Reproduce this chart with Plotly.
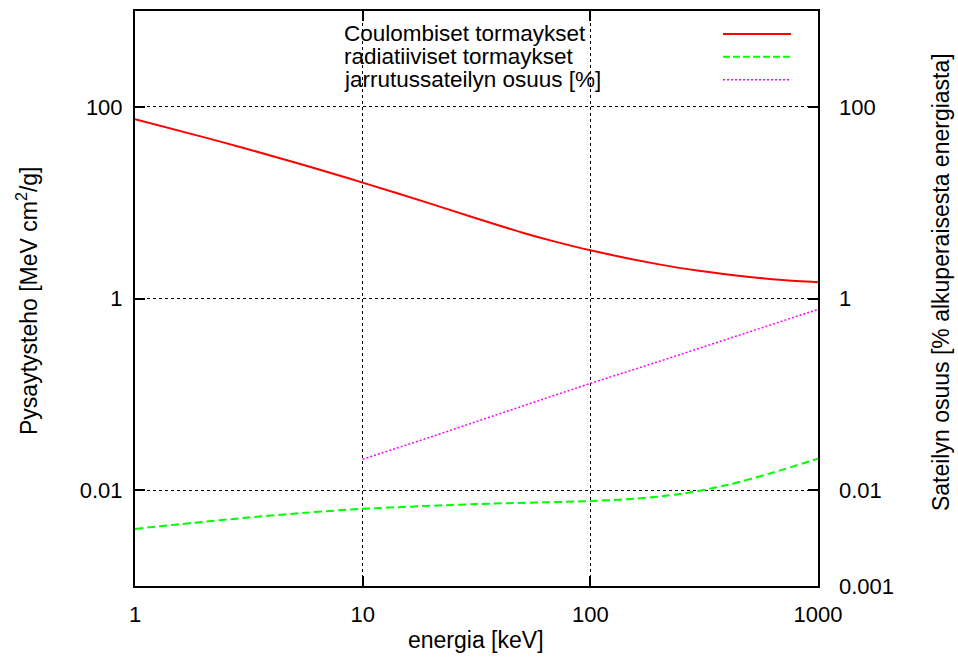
import plotly.graph_objects as go

# ---- data ----
energy_coul = [1, 2, 3, 5, 7, 10, 20, 30, 50, 70, 100, 200, 300, 500, 700, 1000]
coulomb = [74.1, 48.3, 37.2, 26.4, 20.9, 16.2, 9.72, 7.13, 4.89, 3.92, 3.18, 2.27, 1.95, 1.68, 1.56, 1.48]

energy_rad = [1, 1.78, 3.16, 5.62, 10, 31.6, 100, 158, 251, 398, 631, 1000]
radiative = [0.00394, 0.00455, 0.00519, 0.00582, 0.00638, 0.00716, 0.00770, 0.00815,
             0.00915, 0.0113, 0.0152, 0.0213]

energy_brems = [10, 20, 50, 100, 200, 500, 1000]
brems_share = [0.021, 0.036, 0.075, 0.13, 0.22, 0.45, 0.77]

x_ticks = [1, 10, 100, 1000]
x_ticktext = ["1", "10", "100", "1000"]
y_ticks = [0.01, 1, 100]
y_ticktext = ["0.01", "1", "100"]
y2_ticks = [0.001, 0.01, 1, 100]
y2_ticktext = ["0.001", "0.01", "1", "100"]

legend_names = ["Coulombiset tormaykset", "radiatiiviset tormaykset", "jarrutussateilyn osuus [%]"]
colors = ["#ff0000", "#00ff00", "#ff00ff"]

FONT = "Liberation Sans, Arial, Helvetica, sans-serif"
W, H = 958, 659
L, R, T, B = 135, 818, 9, 586


def px2x(px):
    return (px - L) / (R - L)


def py2y(py):
    return (B - py) / (B - T)


fig = go.Figure()
fig.add_trace(go.Scatter(x=energy_coul, y=coulomb, mode="lines", name=legend_names[0],
                         line=dict(color=colors[0], width=2, shape="spline", smoothing=0.8),
                         showlegend=False))
fig.add_trace(go.Scatter(x=energy_rad, y=radiative, mode="lines", name=legend_names[1],
                         line=dict(color=colors[1], width=2, dash="8px,4px", shape="spline",
                                   smoothing=0.8),
                         showlegend=False))
fig.add_trace(go.Scatter(x=energy_brems, y=brems_share, mode="lines", name=legend_names[2],
                         line=dict(color=colors[2], width=1.5, dash="2px,2px"),
                         showlegend=False, yaxis="y2"))

axis_common = dict(
    type="log",
    showline=True, linecolor="black", linewidth=2,
    ticks="inside", ticklen=10, tickwidth=2, tickcolor="black",
    showgrid=True, gridcolor="black", gridwidth=1, griddash="dot",
    zeroline=False,
    tickfont=dict(family=FONT, size=22, color="black"),
)

fig.update_layout(
    width=W, height=H,
    margin=dict(l=L, r=W - R, t=T, b=H - B, pad=0),
    paper_bgcolor="white", plot_bgcolor="white",
    font=dict(family=FONT, size=22, color="black"),
    xaxis=dict(range=[0, 3], tickvals=x_ticks, ticktext=x_ticktext, mirror="ticks",
               ticklabelstandoff=8, **axis_common),
    yaxis=dict(range=[-3, 3], tickvals=y_ticks, ticktext=y_ticktext, mirror="ticks",
               ticklabelstandoff=6, **axis_common),
    yaxis2=dict(type="log", range=[-3, 3], overlaying="y", side="right",
                tickvals=y2_ticks, ticktext=y2_ticktext, ticks="", showgrid=False,
                showline=False, zeroline=False, ticklabelstandoff=20,
                tickfont=dict(family=FONT, size=22, color="black")),
    showlegend=False,
)

shapes = []
annotations = []
# opaque key background (hides gridlines like gnuplot's key box)
shapes.append(dict(type="rect", xref="paper", yref="paper", layer="between",
                   x0=px2x(338), x1=px2x(800), y0=py2y(91), y1=py2y(10),
                   fillcolor="white", line=dict(width=0)))
rows_y = [32, 55, 78]
dashes = ["solid", "7px,3px", "2px,2px"]
widths = [2, 2, 1.5]
for name, col, yy, d, w in zip(legend_names, colors, rows_y, dashes, widths):
    annotations.append(dict(text=name, xref="paper", yref="paper", x=px2x(342), y=py2y(yy),
                            xanchor="left", yanchor="middle", showarrow=False,
                            font=dict(family=FONT, size=22.5, color="black")))
    shapes.append(dict(type="line", xref="paper", yref="paper",
                       x0=px2x(723), x1=px2x(791), y0=py2y(yy), y1=py2y(yy),
                       line=dict(color=col, width=w, dash=d)))

annotations.append(dict(text="energia [keV]", xref="paper", yref="paper",
                        x=px2x(476), y=py2y(640), xanchor="center", yanchor="middle",
                        showarrow=False, font=dict(family=FONT, size=23, color="black")))
annotations.append(dict(text="Pysaytysteho [MeV cm<sup>2</sup>/g]", xref="paper", yref="paper",
                        x=px2x(27), y=py2y(300), xanchor="center", yanchor="middle",
                        textangle=-90, showarrow=False,
                        font=dict(family=FONT, size=23, color="black")))
annotations.append(dict(text="Sateilyn osuus [% alkuperaisesta energiasta]", xref="paper", yref="paper",
                        x=px2x(941), y=py2y(281), xanchor="center", yanchor="middle",
                        textangle=-90, showarrow=False,
                        font=dict(family=FONT, size=23, color="black")))

fig.update_layout(shapes=shapes, annotations=annotations)
fig.write_html("out.html")
